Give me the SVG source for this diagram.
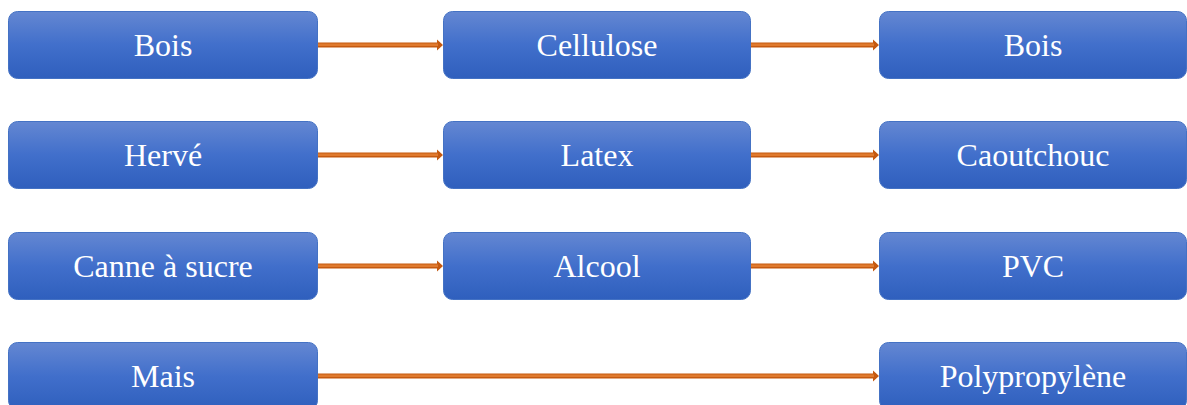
<svg xmlns="http://www.w3.org/2000/svg" width="1187" height="405" viewBox="0 0 1187 405">
<defs>
<linearGradient id="g" x1="0" y1="0" x2="0" y2="1">
<stop offset="0" stop-color="#6487d2"/>
<stop offset="0.5" stop-color="#416fcb"/>
<stop offset="1" stop-color="#2f5fbd"/>
</linearGradient>
</defs>
<style>
.box{fill:url(#g);stroke:#4472c4;stroke-width:1}
.t{font-family:"Liberation Serif",serif;font-size:32px;fill:#ffffff;text-anchor:middle;dominant-baseline:central}
.sh{fill:#c55a11}
.ln{fill:#e07a2e}
</style>
<g id="connectors">
<g id="c1"><path class="sh" d="M317,42.5 H437 V39.5 L443,45 L437,50.5 V47.5 H317 Z"/><rect class="ln" x="317" y="43.5" width="121" height="2.5"/></g>
<g id="c2"><path class="sh" d="M751,42.5 H873 V39.5 L879,45 L873,50.5 V47.5 H751 Z"/><rect class="ln" x="751" y="43.5" width="123" height="2.5"/></g>
<g id="c3"><path class="sh" d="M317,152.5 H437 V149.5 L443,155 L437,160.5 V157.5 H317 Z"/><rect class="ln" x="317" y="153.5" width="121" height="2.5"/></g>
<g id="c4"><path class="sh" d="M751,152.5 H873 V149.5 L879,155 L873,160.5 V157.5 H751 Z"/><rect class="ln" x="751" y="153.5" width="123" height="2.5"/></g>
<g id="c5"><path class="sh" d="M317,263.5 H437 V260.5 L443,266 L437,271.5 V268.5 H317 Z"/><rect class="ln" x="317" y="264.5" width="121" height="2.5"/></g>
<g id="c6"><path class="sh" d="M751,263.5 H873 V260.5 L879,266 L873,271.5 V268.5 H751 Z"/><rect class="ln" x="751" y="264.5" width="123" height="2.5"/></g>
<g id="c7"><path class="sh" d="M317,373.5 H873 V370.5 L879,376 L873,381.5 V378.5 H317 Z"/><rect class="ln" x="317" y="374.5" width="557" height="2.5"/></g>
</g>
<g id="n1"><rect class="box" x="8.5" y="11.5" width="309" height="67" rx="9"/><text class="t" x="163" y="45">Bois</text></g>
<g id="n2"><rect class="box" x="443.5" y="11.5" width="307" height="67" rx="9"/><text class="t" x="597" y="45">Cellulose</text></g>
<g id="n3"><rect class="box" x="879.5" y="11.5" width="307" height="67" rx="9"/><text class="t" x="1033" y="45">Bois</text></g>
<g id="n4"><rect class="box" x="8.5" y="121.5" width="309" height="67" rx="9"/><text class="t" x="163" y="155">Hervé</text></g>
<g id="n5"><rect class="box" x="443.5" y="121.5" width="307" height="67" rx="9"/><text class="t" x="597" y="155">Latex</text></g>
<g id="n6"><rect class="box" x="879.5" y="121.5" width="307" height="67" rx="9"/><text class="t" x="1033" y="155">Caoutchouc</text></g>
<g id="n7"><rect class="box" x="8.5" y="232.5" width="309" height="67" rx="9"/><text class="t" x="163" y="266">Canne à sucre</text></g>
<g id="n8"><rect class="box" x="443.5" y="232.5" width="307" height="67" rx="9"/><text class="t" x="597" y="266">Alcool</text></g>
<g id="n9"><rect class="box" x="879.5" y="232.5" width="307" height="67" rx="9"/><text class="t" x="1033" y="266">PVC</text></g>
<g id="n10"><rect class="box" x="8.5" y="342.5" width="309" height="67" rx="9"/><text class="t" x="163" y="376">Mais</text></g>
<g id="n11"><rect class="box" x="879.5" y="342.5" width="307" height="67" rx="9"/><text class="t" x="1033" y="376">Polypropylène</text></g>
</svg>
